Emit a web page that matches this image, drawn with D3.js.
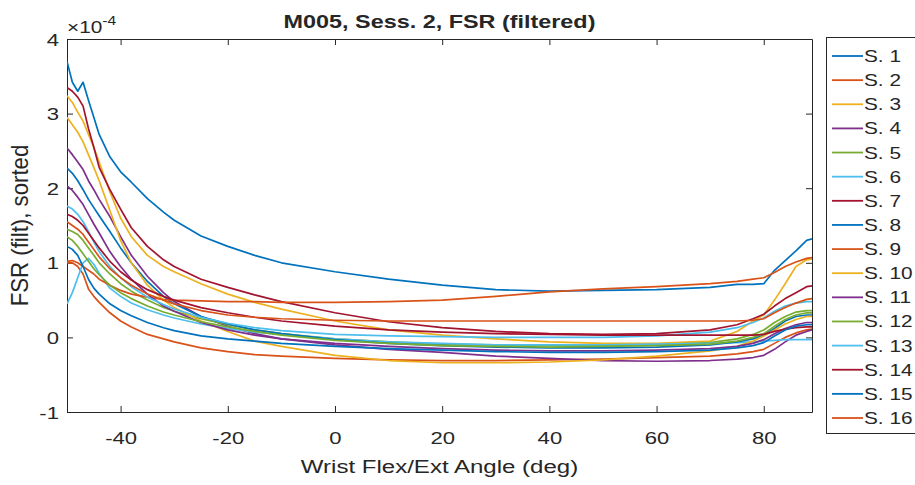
<!DOCTYPE html>
<html><head><meta charset="utf-8">
<script src="https://cdn.jsdelivr.net/npm/d3@7"></script>
<style>
body{margin:0;background:#fff}
svg{display:block}
text{font-family:"Liberation Sans",Arial,Helvetica,sans-serif;fill:#262626}
</style>
</head><body>
<svg id="chart" width="915" height="485"></svg>
<script>
// ---- data (FSR values in units of 1e-4) ----
const angles = [-50,-49,-48,-47,-46,-45,-44,-42,-40,-38,-35,-32,-30,-25,-20,-15,-10,0,10,20,30,40,50,60,70,75,78,80,82,84,86,88,89];
const seriesNames = ["S. 1","S. 2","S. 3","S. 4","S. 5","S. 6","S. 7","S. 8","S. 9","S. 10","S. 11","S. 12","S. 13","S. 14","S. 15","S. 16"];
const s1  = [3.70,3.42,3.30,3.42,3.18,2.95,2.72, 2.42,2.22,2.08,1.86,1.68,1.57, 1.36,1.22,1.10,1.00, 0.88,0.78,0.70,0.64,0.62,0.63,0.64,0.67, 0.71,0.71,0.72,0.90,1.03,1.16,1.30,1.32];
const s2  = [1.00,1.00,0.95,0.85,0.65,0.55,0.47, 0.33,0.22,0.14,0.04,-0.02,-0.06, -0.14,-0.19,-0.23,-0.25, -0.28,-0.30,-0.31,-0.31,-0.30,-0.29,-0.27,-0.25, -0.22,-0.19,-0.16,-0.08,0.00,0.06,0.10,0.11];
const s3  = [3.24,3.15,3.02,2.90,2.72,2.55,2.35, 1.95,1.60,1.35,1.10,0.95,0.88, 0.72,0.58,0.47,0.38, 0.22,0.10,0.03,-0.02,-0.06,-0.08,-0.08,-0.05, 0.08,0.22,0.30,0.50,0.72,0.95,1.04,1.05];
const s4  = [2.54,2.45,2.35,2.25,2.10,1.98,1.85, 1.62,1.35,1.10,0.82,0.60,0.48, 0.28,0.15,0.05,-0.02, -0.10,-0.16,-0.20,-0.25,-0.28,-0.31,-0.32,-0.31, -0.29,-0.27,-0.24,-0.16,-0.06,0.03,0.08,0.10];
const s5  = [1.45,1.42,1.38,1.30,1.20,1.10,1.00, 0.85,0.72,0.62,0.50,0.40,0.35, 0.25,0.17,0.10,0.05, -0.02,-0.06,-0.09,-0.10,-0.11,-0.11,-0.10,-0.07, -0.02,0.04,0.10,0.20,0.28,0.34,0.36,0.36];
const s6  = [0.45,0.60,0.80,1.00,1.06,0.98,0.86, 0.66,0.55,0.46,0.37,0.30,0.26, 0.18,0.12,0.07,0.04, -0.02,-0.06,-0.08,-0.10,-0.10,-0.10,-0.09,-0.08, -0.07,-0.06,-0.05,-0.04,-0.03,-0.03,-0.03,-0.03];
const s7  = [3.35,3.30,3.22,3.10,2.80,2.55,2.28, 1.98,1.72,1.47,1.22,1.04,0.95, 0.78,0.67,0.57,0.48, 0.33,0.21,0.13,0.08,0.05,0.04,0.05,0.10, 0.17,0.25,0.31,0.42,0.52,0.60,0.68,0.69];
const s8  = [2.27,2.20,2.10,1.98,1.85,1.74,1.63, 1.42,1.20,1.00,0.75,0.55,0.45, 0.28,0.18,0.10,0.05, -0.03,-0.08,-0.11,-0.13,-0.14,-0.14,-0.13,-0.10, -0.06,-0.02,0.03,0.12,0.22,0.28,0.30,0.30];
const s9  = [1.02,1.03,1.00,0.95,0.90,0.85,0.78, 0.70,0.63,0.58,0.54,0.51,0.50, 0.49,0.48,0.48,0.47, 0.47,0.48,0.50,0.55,0.61,0.65,0.68,0.72, 0.75,0.78,0.80,0.87,0.95,1.01,1.06,1.07];
const s10 = [2.95,2.85,2.75,2.62,2.45,2.28,2.10, 1.70,1.30,1.00,0.70,0.50,0.40, 0.22,0.08,-0.05,-0.12, -0.24,-0.31,-0.34,-0.34,-0.33,-0.30,-0.25,-0.18, -0.12,-0.05,0.02,0.10,0.18,0.24,0.28,0.28];
const s11 = [2.03,1.97,1.88,1.78,1.65,1.52,1.40, 1.15,0.95,0.78,0.58,0.42,0.35, 0.20,0.10,0.03,-0.02, -0.08,-0.12,-0.15,-0.17,-0.18,-0.18,-0.17,-0.15, -0.12,-0.08,-0.03,0.05,0.12,0.17,0.20,0.20];
const s12 = [1.35,1.30,1.22,1.12,1.02,0.92,0.84, 0.70,0.60,0.52,0.42,0.34,0.30, 0.21,0.14,0.08,0.03, -0.04,-0.08,-0.11,-0.12,-0.13,-0.12,-0.11,-0.09, -0.05,0.00,0.05,0.15,0.24,0.30,0.33,0.33];
const s13 = [1.76,1.72,1.65,1.55,1.42,1.28,1.15, 0.95,0.80,0.68,0.54,0.44,0.38, 0.27,0.19,0.13,0.09, 0.04,0.02,0.01,0.00,0.00,0.00,0.02,0.07, 0.13,0.20,0.26,0.35,0.42,0.46,0.48,0.48];
const s14 = [1.65,1.62,1.57,1.50,1.40,1.30,1.20, 1.02,0.88,0.77,0.64,0.55,0.50, 0.40,0.33,0.27,0.22, 0.15,0.10,0.07,0.05,0.04,0.03,0.03,0.03, 0.03,0.03,0.04,0.08,0.11,0.13,0.14,0.14];
const s15 = [1.22,1.18,1.10,0.95,0.78,0.66,0.58, 0.45,0.36,0.29,0.20,0.13,0.09, 0.02,-0.02,-0.05,-0.08, -0.12,-0.15,-0.17,-0.19,-0.20,-0.20,-0.19,-0.17, -0.14,-0.11,-0.07,0.02,0.10,0.15,0.17,0.17];
const s16 = [1.55,1.50,1.45,1.38,1.28,1.18,1.08, 0.92,0.80,0.70,0.58,0.50,0.45, 0.36,0.30,0.27,0.25, 0.23,0.22,0.22,0.22,0.22,0.22,0.22,0.22, 0.22,0.23,0.25,0.33,0.40,0.46,0.51,0.52];
const seriesValues = [s1,s2,s3,s4,s5,s6,s7,s8,s9,s10,s11,s12,s13,s14,s15,s16];
const palette = ["#0072BD","#D95319","#EDB120","#7E2F8E","#77AC30","#4DBEEE","#A2142F"];
const xTicks = [-40,-20,0,20,40,60,80];
const yTicks = [-1,0,1,2,3,4];
const titleText = "M005, Sess. 2, FSR (filtered)";
const xLabel = "Wrist Flex/Ext Angle (deg)";
const yLabel = "FSR (filt), sorted";

// ---- layout ----
const SX = 1.3; // horizontal text stretch seen in the reference
const box = {left:67, right:812, top:39, bottom:412};
const svg = d3.select("#chart");
const x = d3.scaleLinear().domain([-50,89]).range([box.left, box.right]);
const y = d3.scaleLinear().domain([-1,4]).range([box.bottom, box.top]);
const color = i => palette[i % palette.length];

const axisCol = "#262626";
function styleAxis(g){
  g.selectAll("path.domain").attr("stroke", axisCol).attr("stroke-width", 1);
  g.selectAll(".tick line").attr("stroke", axisCol).attr("stroke-width", 1);
}

const gx = svg.append("g").attr("transform", `translate(0,${box.bottom})`)
  .call(d3.axisBottom(x).tickValues(xTicks).tickSizeInner(-6).tickSizeOuter(0).tickFormat(d=>d));
styleAxis(gx);
gx.selectAll(".tick text").attr("y",null).attr("dy",null)
  .attr("transform", `translate(0,32) scale(${SX},1)`)
  .attr("font-size", 17).attr("fill", axisCol).attr("text-anchor","middle");

const gt = svg.append("g").attr("transform", `translate(0,${box.top})`)
  .call(d3.axisTop(x).tickValues(xTicks).tickSizeInner(-6).tickSizeOuter(0).tickFormat(""));
styleAxis(gt);

const gy = svg.append("g").attr("transform", `translate(${box.left},0)`)
  .call(d3.axisLeft(y).tickValues(yTicks).tickSizeInner(-6).tickSizeOuter(0).tickFormat(d=>d));
styleAxis(gy);
gy.selectAll(".tick text").attr("x",null).attr("dy",null)
  .attr("transform", `translate(-8,6) scale(${SX},1)`)
  .attr("font-size", 17).attr("fill", axisCol).attr("text-anchor","end");

const gr = svg.append("g").attr("transform", `translate(${box.right},0)`)
  .call(d3.axisRight(y).tickValues(yTicks).tickSizeInner(-6).tickSizeOuter(0).tickFormat(""));
styleAxis(gr);

svg.append("clipPath").attr("id","clip").append("rect")
  .attr("x", box.left).attr("y", box.top).attr("width", box.right-box.left).attr("height", box.bottom-box.top);
const line = d3.line().x((d,i)=>x(angles[i])).y(d=>y(d));
svg.append("g").attr("clip-path","url(#clip)")
  .selectAll("path").data(seriesValues).join("path")
  .attr("d", line).attr("fill","none")
  .attr("stroke", (d,i)=>color(i)).attr("stroke-width", 1.7).attr("stroke-linejoin","round");

const ex = svg.append("text").attr("transform", `translate(67,33) scale(${SX},1)`).attr("font-size", 16).attr("fill", axisCol);
ex.append("tspan").text("\u00d710");
ex.append("tspan").attr("dy", -8).attr("font-size", 12).text("-4");

svg.append("text").attr("transform", `translate(${(box.left+box.right)/2},28) scale(${SX},1)`)
  .attr("text-anchor","middle").attr("font-size", 18).attr("font-weight","bold").attr("fill","#000").text(titleText);

svg.append("text").attr("transform", `translate(${(box.left+box.right)/2},473) scale(${SX},1)`)
  .attr("text-anchor","middle").attr("font-size", 18.5).attr("fill", axisCol).text(xLabel);

svg.append("text").attr("transform", `translate(28,${(box.top+box.bottom)/2}) scale(${SX},1.2) rotate(-90)`)
  .attr("text-anchor","middle").attr("font-size", 18.5).attr("fill", axisCol).text(yLabel);

const lg = svg.append("g");
lg.append("rect").attr("x", 826.5).attr("y", 37.5).attr("width", 110).attr("height", 396)
  .attr("fill","#fff").attr("stroke", axisCol).attr("stroke-width", 1);
const rowY = d3.scalePoint().domain(seriesNames).range([56, 418]);
const items = lg.selectAll("g.item").data(seriesNames).join("g").attr("class","item")
  .attr("transform", d=>`translate(0,${rowY(d)})`);
items.append("line").attr("x1", 832).attr("x2", 863).attr("y1",0).attr("y2",0)
  .attr("stroke", (d,i)=>color(i)).attr("stroke-width", 1.8);
items.append("text").attr("transform", `translate(864,6) scale(${SX},1)`)
  .attr("font-size", 16).attr("fill", axisCol).text(d=>d);
</script>
</body></html>
